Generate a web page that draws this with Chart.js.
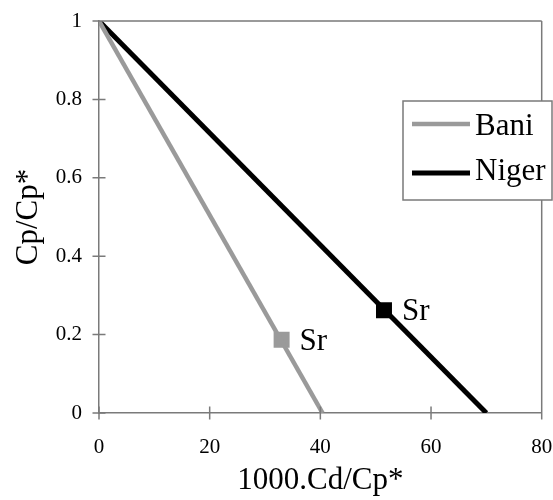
<!DOCTYPE html>
<html>
<head>
<meta charset="utf-8">
<script src="https://cdn.jsdelivr.net/npm/chart.js@4/dist/chart.umd.min.js"></script>
<style>
  html, body { margin: 0; padding: 0; background: #fff; }
  #wrap { width: 553px; height: 500px; }
</style>
</head>
<body>
<div id="wrap"><canvas id="chart" width="553" height="500"></canvas></div>
<script>
// data
const seriesNames = ['Bani', 'Niger'];
const baniX = [0, 40.4];
const baniY = [1, 0];
const nigerX = [0, 70];
const nigerY = [1, 0];
const srX = [33, 51.5];
const srY = [0.187, 0.262];
const srLabels = ['Sr', 'Sr'];
const xTicks = [0, 20, 40, 60, 80];
const yTicks = [0, 0.2, 0.4, 0.6, 0.8, 1];

const GRAY = '#9a9a9a';
const AXIS = '#7a7a7a';
const FONT = '"Liberation Serif", "DejaVu Serif", serif';

function pts(xs, ys) {
    return xs.map((x, i) => ({ x: x, y: ys[i] }));
}

// crossing tick marks, frame, legend box and Sr labels
const decor = {
    id: 'decor',
    afterDatasetsDraw(chart) {
        const ctx = chart.ctx;
        const a = chart.chartArea;
        const xs = chart.scales.x, ys = chart.scales.y;
        ctx.save();
        ctx.strokeStyle = AXIS;
        ctx.lineWidth = 1.5;
        ctx.beginPath();
        ctx.moveTo(a.left, a.top); ctx.lineTo(a.right, a.top);
        ctx.moveTo(a.right, a.top); ctx.lineTo(a.right, a.bottom);
        yTicks.forEach(v => {
            const p = ys.getPixelForValue(v);
            ctx.moveTo(a.left - 6.5, p); ctx.lineTo(a.left + 6.5, p);
        });
        xTicks.forEach(v => {
            const p = xs.getPixelForValue(v);
            ctx.moveTo(p, a.bottom - 6.5); ctx.lineTo(p, a.bottom + 6.5);
        });
        ctx.stroke();

        // Sr labels next to the markers
        ctx.font = '31px ' + FONT;
        ctx.fillStyle = '#000';
        ctx.textBaseline = 'middle';
        ctx.textAlign = 'left';
        srX.forEach((x, i) => {
            ctx.fillText(srLabels[i], xs.getPixelForValue(x) + 18, ys.getPixelForValue(srY[i]) + 2);
        });

        // legend
        const lx = 403, ly = 101, lw = 149, lh = 99;
        ctx.fillStyle = '#fff';
        ctx.fillRect(lx, ly, lw, lh);
        ctx.strokeStyle = AXIS;
        ctx.lineWidth = 1.5;
        ctx.strokeRect(lx, ly, lw, lh);
        const colors = [GRAY, '#000'];
        const rows = [124, 173];
        const textRows = [127, 172];
        seriesNames.forEach((name, i) => {
            ctx.strokeStyle = colors[i];
            ctx.lineWidth = i === 0 ? 4.5 : 5;
            ctx.beginPath();
            ctx.moveTo(412, rows[i]); ctx.lineTo(470, rows[i]);
            ctx.stroke();
            ctx.fillStyle = '#000';
            ctx.font = '31px ' + FONT;
            ctx.fillText(name, 475, textRows[i]);
        });
        ctx.restore();
    }
};

new Chart(document.getElementById('chart'), {
    type: 'scatter',
    data: {
        datasets: [
            {
                label: seriesNames[0],
                data: pts(baniX, baniY),
                showLine: true,
                borderColor: GRAY,
                borderWidth: 4.5,
                pointRadius: 0
            },
            {
                label: seriesNames[1],
                data: pts(nigerX, nigerY),
                showLine: true,
                borderColor: '#000',
                borderWidth: 5,
                pointRadius: 0
            },
            {
                label: 'Sr Bani',
                data: pts([srX[0]], [srY[0]]),
                pointStyle: 'rect',
                pointRadius: 11.3,
                backgroundColor: GRAY,
                borderWidth: 0
            },
            {
                label: 'Sr Niger',
                data: pts([srX[1]], [srY[1]]),
                pointStyle: 'rect',
                pointRadius: 11.3,
                backgroundColor: '#000',
                borderWidth: 0
            }
        ]
    },
    options: {
        responsive: false,
        animation: false,
        events: [],
        layout: { padding: { left: 0, right: 11, top: 21, bottom: 0 } },
        plugins: {
            legend: { display: false },
            tooltip: { enabled: false }
        },
        scales: {
            x: {
                type: 'linear',
                min: 0,
                max: 80,
                afterBuildTicks: s => { s.ticks = xTicks.map(v => ({ value: v })); },
                afterFit: s => { s.height = 87; s.paddingLeft = 0; s.paddingRight = 0; },
                grid: { display: false, drawTicks: false },
                border: { display: true, color: AXIS, width: 1.5 },
                ticks: { color: '#000', font: { family: FONT, size: 21 }, padding: 22, maxRotation: 0, callback: v => String(v) },
                title: {
                    display: true,
                    text: '1000.Cd/Cp*',
                    color: '#000',
                    font: { family: FONT, size: 31 },
                    padding: { top: 0, bottom: 1 }
                }
            },
            y: {
                type: 'linear',
                min: 0,
                max: 1,
                afterBuildTicks: s => { s.ticks = yTicks.map(v => ({ value: v })); },
                afterFit: s => { s.width = 99; s.paddingTop = 0; s.paddingBottom = 0; },
                grid: { display: false, drawTicks: false },
                border: { display: true, color: AXIS, width: 1.5 },
                ticks: { color: '#000', font: { family: FONT, size: 21 }, padding: 17, callback: v => String(v) },
                title: {
                    display: true,
                    text: 'Cp/Cp*',
                    color: '#000',
                    font: { family: FONT, size: 31 },
                    padding: { top: 10, bottom: 0 }
                }
            }
        }
    },
    plugins: [decor]
});
</script>
</body>
</html>
